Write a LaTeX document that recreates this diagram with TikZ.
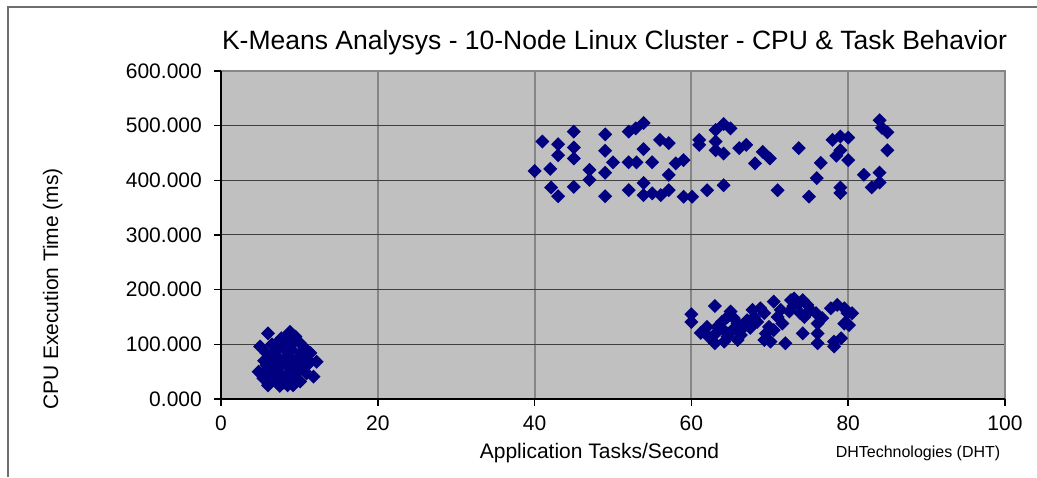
\documentclass[tikz,border=0pt]{standalone}
\usepackage{fontspec}
\setmainfont{Liberation Sans}
\usepackage{tikz}
\definecolor{plotbg}{HTML}{C0C0C0}
\definecolor{markblue}{HTML}{000080}
\definecolor{gridgray}{HTML}{868686}
\definecolor{framegray}{HTML}{6E6E6E}
\tikzset{
  chartframe/.style={draw=framegray, line width=1.2pt},
  vgrid/.style={draw=gridgray, line width=2pt},
  hgrid/.style={draw=black!75, line width=1pt},
  plotedge/.style={draw=gridgray, line width=2pt},
  axisline/.style={draw=black, line width=1.5pt},
  datamark/.style={fill=markblue},
  titletext/.style={font=\fontsize{26.5}{30}\selectfont, inner sep=0pt},
  axislabel/.style={font=\fontsize{21}{25}\selectfont, inner sep=0pt},
  ticklabel/.style={font=\fontsize{21}{25}\selectfont, inner sep=0pt},
  credit/.style={font=\fontsize{16}{19}\selectfont, inner sep=0pt},
}

\begin{document}
\begin{tikzpicture}

  \useasboundingbox (0,0) rectangle (1037pt,477pt);
  \fill[white] (0,0) rectangle (1037pt,477pt);

  % Chart frame (only top and left edge fall on the page)
  \draw[chartframe] (8pt,0pt) -- (8pt,470pt) -- (1037pt,470pt);

  % Title and axis titles
  \node[titletext, anchor=base] (title) at (614.5pt,427pt)
    {K-Means Analysys - 10-Node Linux Cluster - CPU \& Task Behavior};
  \node[axislabel, anchor=base, rotate=90] (ytitle) at (58pt,188pt)
    {CPU Execution Time (ms)};
  \node[axislabel, anchor=base] (xtitle) at (599.5pt,18pt)
    {Application Tasks/Second};
  \node[credit, anchor=base] (source) at (918pt,19.5pt)
    {DHTechnologies (DHT)};

  % Plot area in data units
  \begin{scope}[shift={(221pt,78pt)}, x=7.84pt, y=0.54667pt]
    \fill[plotbg] (0,0) rectangle (100,600);

    % Gridlines
    \foreach \gx in {20,40,60,80}
      \draw[vgrid] (\gx,0) -- (\gx,600);
    \foreach \gy in {100,200,...,500}
      \draw[hgrid] (0,\gy) -- (100,\gy);
    \draw[plotedge] (0,600) -- (100,600) -- (100,0);

    % Cluster at low task rate
    \foreach \px/\py in {
      6.0/120, 5.0/96, 8.8/123, 9.5/114, 10.1/102, 11.4/84, 12.2/68,
      11.8/41, 10.9/47, 10.1/32, 9.2/25, 8.5/25, 7.5/24, 6.0/25, 4.8/50,
      5.4/38, 5.8/84, 6.7/71, 7.5/59, 8.4/77, 8.0/96, 9.2/71, 10.1/59,
      8.6/47, 6.9/44, 6.3/53, 5.8/62, 7.1/90, 10.9/90, 10.1/84, 7.7/111,
      6.5/100, 7.0/80, 8.0/65, 9.0/55, 7.0/35, 6.0/30, 9.5/45, 8.0/40,
      5.2/45, 9.0/100, 7.0/100, 8.0/110, 9.0/90, 7.5/70, 6.0/75, 9.5/65,
      11.0/62, 7.0/50, 8.0/30, 9.0/35, 10.0/75, 11.0/72, 6.5/40, 5.5/70,
      8.5/85, 6.5/62}
      \fill[datamark] (\px,\py) +(-7pt,0pt) -- +(0pt,7pt) -- +(7pt,0pt)
        -- +(0pt,-7pt) -- cycle;

    % Upper cluster
    \foreach \px/\py in {
      41.0/471, 40.0/417, 42.0/421, 43.0/466, 43.0/446, 45.0/489, 45.0/460,
      45.0/440, 42.1/387, 43.0/371, 45.0/388, 47.0/419, 47.0/401, 49.0/484,
      49.0/454, 49.0/414, 49.0/371, 50.0/433, 52.0/382, 52.0/433, 52.0/489,
      52.9/495, 53.9/505, 53.0/433, 53.9/457, 53.9/395, 53.9/373, 55.0/433,
      56.0/474, 57.1/468, 55.0/376, 56.1/373, 57.1/382, 57.1/410, 58.0/431,
      59.0/437, 59.0/370, 60.1/370, 61.0/474, 61.0/465, 62.0/382, 63.1/492,
      64.1/503, 65.0/495, 63.1/471, 63.1/455, 64.1/449, 64.1/391, 66.1/459,
      67.0/465, 68.1/431, 69.1/452, 70.0/440, 71.0/382, 73.7/459, 75.0/370,
      76.0/404, 76.5/432, 78.0/474, 79.0/480, 78.5/445, 79.0/455, 79.0/387,
      79.0/377, 80.0/478, 80.0/437, 82.0/410, 83.0/387, 84.0/396, 84.0/414,
      84.0/510, 84.3/496, 85.0/488, 85.0/455}
      \fill[datamark] (\px,\py) +(-7pt,0pt) -- +(0pt,7pt) -- +(7pt,0pt)
        -- +(0pt,-7pt) -- cycle;

    % Lower cluster at high task rate
    \foreach \px/\py in {
      60.0/155, 60.0/141, 63.0/170, 61.2/121, 62.0/132, 63.0/102, 63.9/141,
      64.6/150, 65.0/160, 65.4/148, 65.9/138, 65.2/126, 64.6/114, 64.2/105,
      65.9/108, 66.3/117, 66.7/132, 67.1/144, 67.8/163, 68.4/141, 68.8/166,
      69.3/157, 69.5/120, 69.9/132, 70.1/105, 70.5/178, 71.0/150, 71.4/163,
      71.6/138, 72.0/102, 72.7/181, 73.1/184, 73.7/175, 74.2/181, 74.4/150,
      74.2/120, 74.8/172, 75.2/163, 75.9/157, 76.1/138, 76.1/120, 76.1/102,
      76.7/148, 77.8/166, 78.6/172, 78.2/105, 79.1/111, 78.2/96, 79.5/138,
      79.9/157, 80.1/135, 80.5/157, 79.5/166, 69.3/108, 62.2/114, 63.1/120,
      63.3/132, 68.0/150, 70.5/126, 73.9/157, 64.0/128, 66.0/125,
      67.5/130, 72.5/160, 73.0/170}
      \fill[datamark] (\px,\py) +(-7pt,0pt) -- +(0pt,7pt) -- +(7pt,0pt)
        -- +(0pt,-7pt) -- cycle;

    % Axes, ticks and tick labels
    \draw[axisline] (0,600) -- (0,0) -- (100,0);
    \foreach \gy in {0,100,...,600} {
      \draw[axisline] (0,\gy) -- ++(-7pt,0pt);
      \node[ticklabel, anchor=east] (ytick\gy) at ([xshift=-19pt]0,\gy) {\gy.000};
    }
    \foreach \gx in {0,20,...,100} {
      \draw[axisline] (\gx,0) -- ++(0pt,-7pt);
      \node[ticklabel, anchor=base] (xtick\gx) at ([yshift=-32pt]\gx,0) {\gx};
    }
  \end{scope}

\end{tikzpicture}
\end{document}
